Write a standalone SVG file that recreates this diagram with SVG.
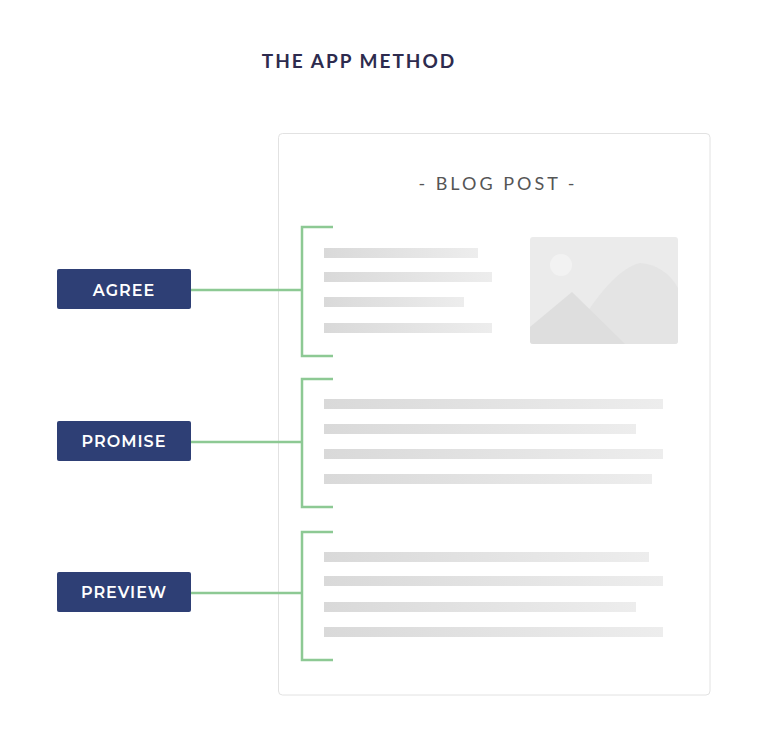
<svg xmlns="http://www.w3.org/2000/svg" width="768" height="751" viewBox="0 0 768 751">
<defs>
<linearGradient id="bar" x1="0" y1="0" x2="1" y2="0">
<stop offset="0" stop-color="#d9d9d9"/>
<stop offset="0.5" stop-color="#e3e3e3"/>
<stop offset="1" stop-color="#ededed"/>
</linearGradient>
<style>
.btn{fill:#2e3f75}
.btxt{font-family:"Montserrat","Lato","Open Sans",sans-serif;font-weight:600;font-size:16px;fill:#ffffff;letter-spacing:1px;text-anchor:middle}
.br{fill:none;stroke:#8dc994;stroke-width:2.5}
.bar{fill:url(#bar)}
</style>
</defs>
<rect width="768" height="751" fill="#ffffff"/>
<text x="359" y="68" font-family="Lato,'Open Sans',sans-serif" font-weight="700" font-size="19" fill="#2d2b4e" letter-spacing="2" text-anchor="middle">THE APP METHOD</text>

<g id="page">
<rect x="278.5" y="133.5" width="431.5" height="561.5" rx="4" fill="#ffffff" stroke="#e2e2e2" stroke-width="1"/>
<text x="498" y="190" font-family="Lato,'Open Sans',sans-serif" font-size="18" fill="#555555" letter-spacing="3" text-anchor="middle">- BLOG POST -</text>
<g id="intro-lines">
<rect class="bar" x="324" y="248" width="154" height="10"/>
<rect class="bar" x="324" y="272" width="168" height="10"/>
<rect class="bar" x="324" y="297" width="140" height="10"/>
<rect class="bar" x="324" y="323" width="168" height="10"/>
</g>
<g id="image">
<rect x="530" y="237" width="148" height="107" rx="3" fill="#ebebeb"/>
<path d="M570 340 Q610 270 640 263 Q665 265 678 288 L678 341 Q678 344 675 344 L575 344 Z" fill="#e4e4e4"/>
<path d="M530 327 L572 292 L625 344 L533 344 Q530 344 530 341 Z" fill="#dedede"/>
<circle cx="561" cy="265" r="11" fill="#f2f2f2"/>
</g>
<g id="promise-lines">
<rect class="bar" x="324" y="399" width="339" height="10"/>
<rect class="bar" x="324" y="424" width="312" height="10"/>
<rect class="bar" x="324" y="449" width="339" height="10"/>
<rect class="bar" x="324" y="474" width="328" height="10"/>
</g>
<g id="preview-lines">
<rect class="bar" x="324" y="552" width="325" height="10"/>
<rect class="bar" x="324" y="576" width="339" height="10"/>
<rect class="bar" x="324" y="602" width="312" height="10"/>
<rect class="bar" x="324" y="627" width="339" height="10"/>
</g>
</g>

<g id="connectors">
<path class="br" d="M333 227 H302 V356 H333 M191 290 H302"/>
<path class="br" d="M333 379 H302 V507 H333 M191 442 H302"/>
<path class="br" d="M333 532 H302 V660 H333 M191 593 H302"/>
</g>

<g id="agree">
<rect class="btn" x="57" y="269" width="134" height="40" rx="2"/>
<text class="btxt" x="124" y="296">AGREE</text>
</g>
<g id="promise">
<rect class="btn" x="57" y="421" width="134" height="40" rx="2"/>
<text class="btxt" x="124" y="447">PROMISE</text>
</g>
<g id="preview">
<rect class="btn" x="57" y="572" width="134" height="40" rx="2"/>
<text class="btxt" x="124" y="598">PREVIEW</text>
</g>
</svg>
